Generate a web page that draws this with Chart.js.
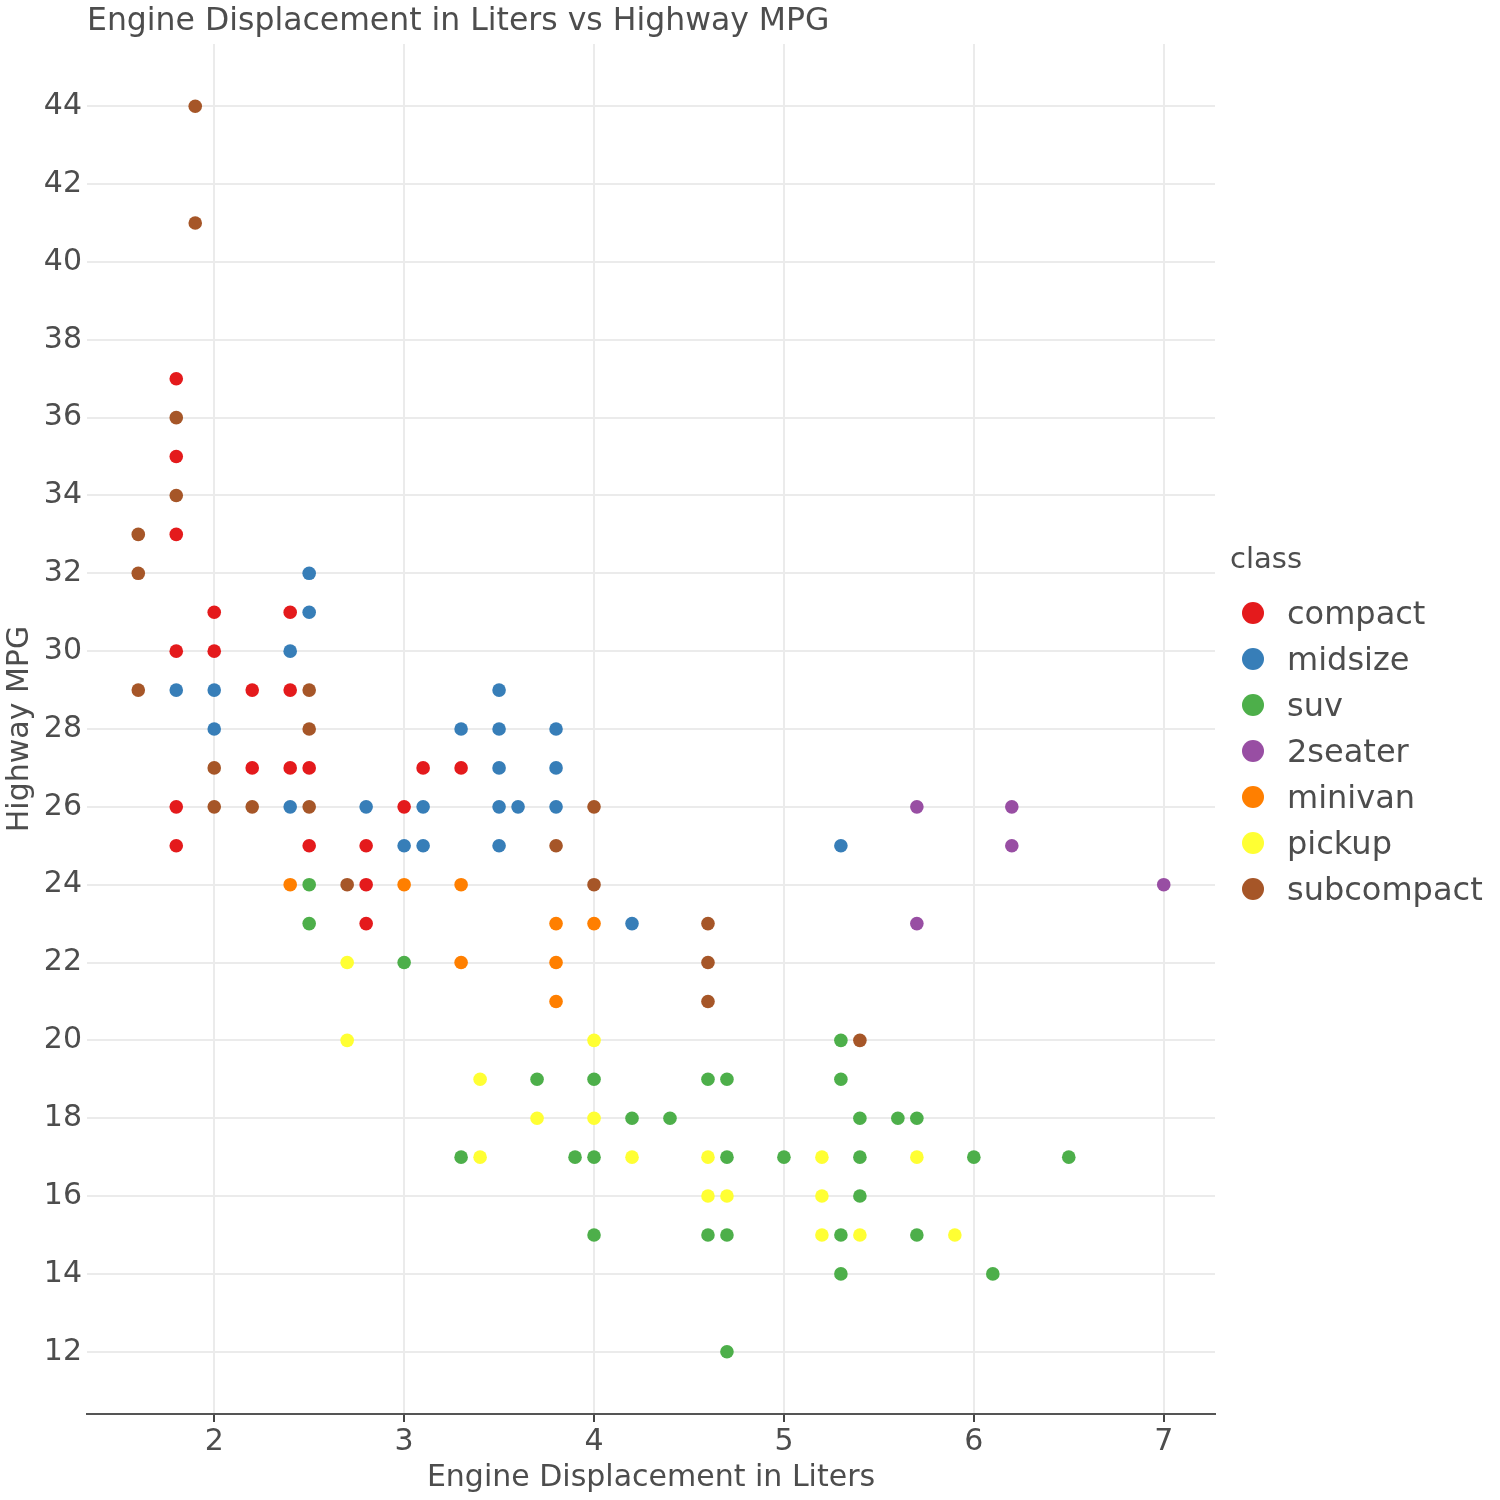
<!DOCTYPE html>
<html>
<head>
<meta charset="utf-8">
<script src="https://cdn.jsdelivr.net/npm/chart.js@4"></script>
<style>
  html, body { margin: 0; padding: 0; background: #ffffff; }
  #wrap { position: relative; width: 1500px; height: 1500px; }
  #legend { position: absolute; left: 1230px; top: 538px; font-family: "DejaVu Sans", sans-serif; color: #4D4D4D; }
  #legend .ttl { font-size: 29px; height: 52px; line-height: 40px; }
  #legend .item { position: relative; height: 46px; line-height: 46px; font-size: 32px; padding-left: 57px; white-space: nowrap; }
  #legend .dot { position: absolute; left: 12px; top: 12px; width: 22px; height: 22px; border-radius: 50%; }
</style>
</head>
<body>
<div id="wrap">
  <canvas id="c" width="1500" height="1500"></canvas>
  <div id="legend"></div>
</div>
<script>
const classNames = ["compact", "midsize", "suv", "2seater", "minivan", "pickup", "subcompact"];
const classColors = ["#E41A1C", "#377EB8", "#4DAF4A", "#984EA3", "#FF7F00", "#FFFF33", "#A65628"];

// visible points per class: [displ, hwy]
const compactPts = [[1.8,37],[1.8,35],[1.8,33],[1.8,30],[1.8,26],[1.8,25],[2.0,31],[2.0,30],[2.2,29],[2.2,27],[2.4,31],[2.4,29],[2.4,27],[2.5,27],[2.5,25],[2.8,25],[2.8,24],[2.8,23],[3.0,26],[3.1,27],[3.3,27]];
const midsizePts = [[1.8,29],[2.0,29],[2.0,28],[2.4,30],[2.4,26],[2.5,32],[2.5,31],[2.8,26],[3.0,25],[3.1,26],[3.1,25],[3.3,28],[3.5,29],[3.5,28],[3.5,27],[3.5,26],[3.5,25],[3.6,26],[3.8,28],[3.8,27],[3.8,26],[4.2,23],[5.3,25]];
const suvPts = [[2.5,24],[2.5,23],[3.0,22],[3.3,17],[3.7,19],[3.9,17],[4.0,19],[4.0,17],[4.0,15],[4.2,18],[4.4,18],[4.6,19],[4.6,15],[4.7,19],[4.7,17],[4.7,15],[4.7,12],[5.0,17],[5.3,20],[5.3,19],[5.3,15],[5.3,14],[5.4,18],[5.4,17],[5.4,16],[5.6,18],[5.7,18],[5.7,15],[6.0,17],[6.1,14],[6.5,17]];
const twoSeaterPts = [[5.7,26],[5.7,23],[6.2,26],[6.2,25],[7.0,24]];
const minivanPts = [[2.4,24],[3.0,24],[3.3,24],[3.3,22],[3.8,23],[3.8,22],[3.8,21],[4.0,23]];
const pickupPts = [[2.7,22],[2.7,20],[3.4,19],[3.4,17],[3.7,18],[4.0,20],[4.0,18],[4.2,17],[4.6,17],[4.6,16],[4.7,16],[5.2,17],[5.2,16],[5.2,15],[5.4,15],[5.7,17],[5.9,15]];
const subcompactPts = [[1.6,33],[1.6,32],[1.6,29],[1.8,36],[1.8,34],[1.9,44],[1.9,41],[2.0,27],[2.0,26],[2.2,26],[2.5,29],[2.5,28],[2.5,26],[2.7,24],[3.8,25],[4.0,26],[4.0,24],[4.6,23],[4.6,22],[4.6,21],[5.4,20]];

const xTicks = [2, 3, 4, 5, 6, 7];
const yTicks = [12, 14, 16, 18, 20, 22, 24, 26, 28, 30, 32, 34, 36, 38, 40, 42, 44];
const xRange = [1.33, 7.27];
const yRange = [10.4, 45.6];

const titleText = "Engine Displacement in Liters vs Highway MPG";
const xTitle = "Engine Displacement in Liters";
const yTitle = "Highway MPG";
const legendTitle = "class";

const seriesPts = [compactPts, midsizePts, suvPts, twoSeaterPts, minivanPts, pickupPts, subcompactPts];

const FONT = "DejaVu Sans";
const TXT = "#4D4D4D";
const GRID = "#EBEBEB";

const datasets = classNames.map((name, i) => ({
  label: name,
  data: seriesPts[i].map(p => ({x: p[0], y: p[1]})),
  backgroundColor: classColors[i],
  borderWidth: 0,
  pointRadius: 6.8,
  pointHoverRadius: 6.8
}));

new Chart(document.getElementById("c"), {
  type: "scatter",
  data: { datasets },
  options: {
    responsive: false,
    animation: false,
    devicePixelRatio: 1,
    layout: { padding: { left: 0, right: 285, top: 0, bottom: 0 } },
    plugins: {
      legend: { display: false },
      tooltip: { enabled: false },
      title: {
        display: true,
        text: titleText,
        align: "start",
        fullSize: false,
        color: TXT,
        font: { family: FONT, size: 31.5, weight: "normal", lineHeight: 1.2 },
        padding: { top: 3, bottom: 3.2 }
      }
    },
    scales: {
      x: {
        type: "linear",
        min: xRange[0],
        max: xRange[1],
        afterBuildTicks: (axis) => { axis.ticks = xTicks.map(v => ({ value: v })); },
        afterFit: (scale) => { scale.height = 86; },
        grid: { color: GRID, lineWidth: 2, drawTicks: true, tickLength: 8, tickColor: "#444444", tickWidth: 2 },
        border: { display: true, color: "#555555", width: 2 },
        ticks: { color: TXT, font: { family: FONT, size: 30 }, padding: 2, maxRotation: 0 },
        title: { display: true, text: xTitle, color: TXT, font: { family: FONT, size: 30, lineHeight: 1.2 }, padding: { top: 0, bottom: 4 } }
      },
      y: {
        type: "linear",
        min: yRange[0],
        max: yRange[1],
        afterBuildTicks: (axis) => { axis.ticks = yTicks.map(v => ({ value: v })); },
        afterFit: (scale) => { scale.width = 87; },
        grid: { color: GRID, lineWidth: 2, drawTicks: false },
        border: { display: false },
        ticks: { color: TXT, font: { family: FONT, size: 30 }, padding: 5 },
        title: { display: true, text: yTitle, color: TXT, font: { family: FONT, size: 30, lineHeight: 1.2 }, padding: { top: 2, bottom: 0 } }
      }
    }
  }
});

// legend as text
const lg = document.getElementById("legend");
const t = document.createElement("div");
t.className = "ttl";
t.textContent = legendTitle;
lg.appendChild(t);
classNames.forEach((name, i) => {
  const it = document.createElement("div");
  it.className = "item";
  const d = document.createElement("span");
  d.className = "dot";
  d.style.background = classColors[i];
  it.appendChild(d);
  it.appendChild(document.createTextNode(name));
  lg.appendChild(it);
});
</script>
</body>
</html>
